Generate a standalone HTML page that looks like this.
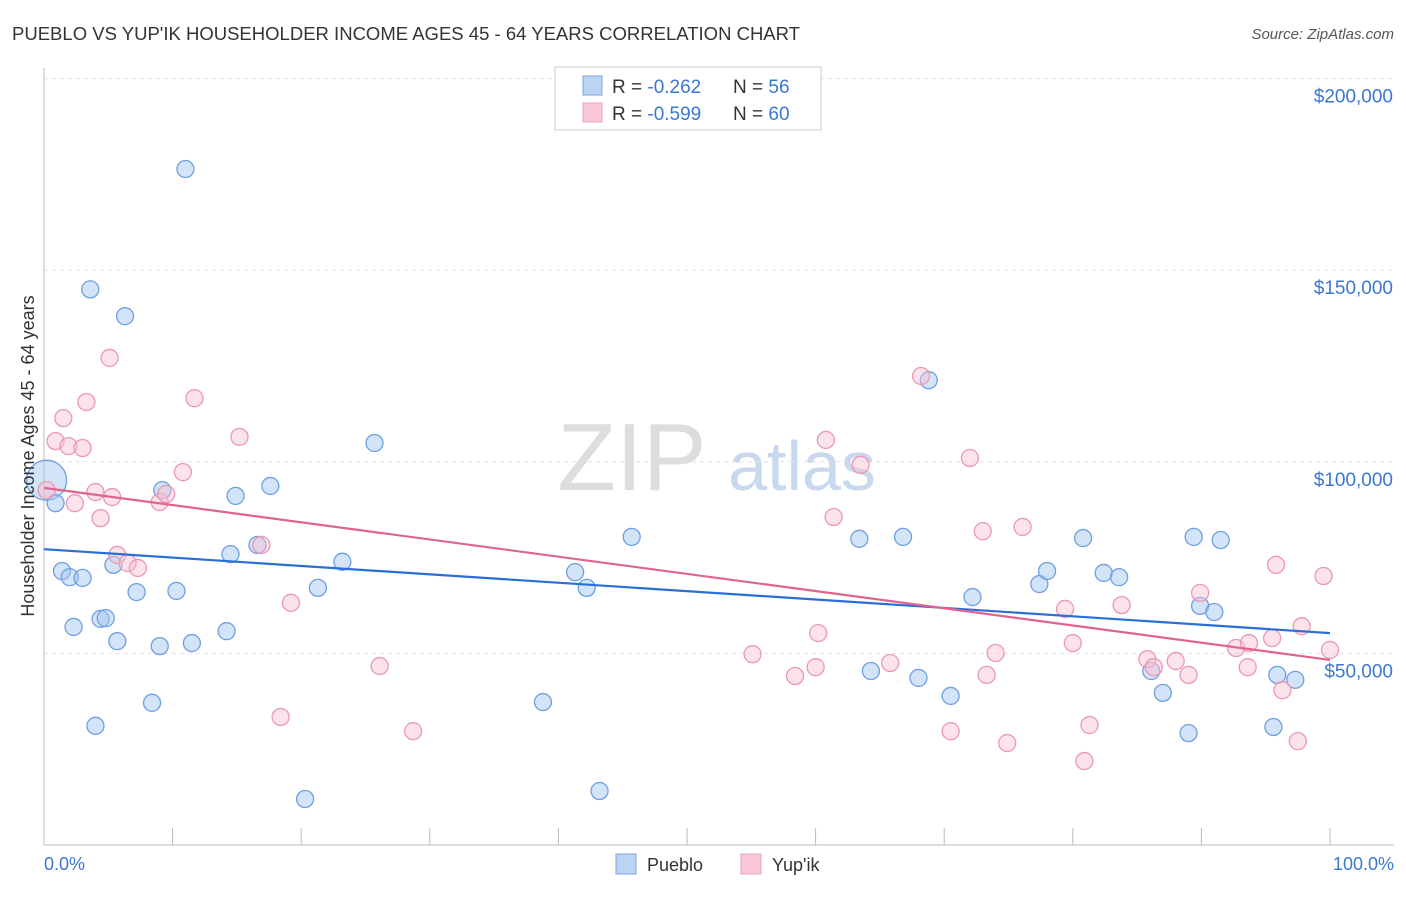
<!DOCTYPE html>
<html><head><meta charset="utf-8"><style>
body{margin:0;background:#fff;font-family:"Liberation Sans",sans-serif;}
svg text{font-family:"Liberation Sans",sans-serif;}
</style></head><body>
<svg id="chart" width="1406" height="892" xmlns="http://www.w3.org/2000/svg">
<text x="12" y="40" font-size="18" fill="#333" textLength="788" lengthAdjust="spacingAndGlyphs">PUEBLO VS YUP'IK HOUSEHOLDER INCOME AGES 45 - 64 YEARS CORRELATION CHART</text>
<text x="1394" y="39" font-size="15" fill="#555" text-anchor="end" font-style="italic">Source: ZipAtlas.com</text>
<g>
<text x="632" y="490" font-size="96" fill="#ddd" font-family="Liberation Serif" text-anchor="middle">ZIP</text>
<text x="802" y="490" font-size="70" fill="#c8d8ee" text-anchor="middle">atlas</text>
</g>
<g id="grid"></g><g id="axes"></g><g id="marks"></g>
<text transform="translate(34,456) rotate(-90)" font-size="18" fill="#333" text-anchor="middle">Householder Income Ages 45 - 64 years</text>
<text x="44" y="870" font-size="18" fill="#3a78d0">0.0%</text>
<text x="1394" y="870" font-size="18" fill="#3a78d0" text-anchor="end">100.0%</text>
<g>
<rect x="555" y="67" width="266" height="63" fill="#fff" stroke="#ccc"/>
<rect x="583" y="76" width="19" height="19" fill="#bcd4f4" stroke="#7aa6e0"/>
<rect x="583" y="103" width="19" height="19" fill="#f9c8d6" stroke="#eaa0b8"/>
<text x="612" y="93" font-size="19" fill="#333">R = <tspan fill="#3a78d0">-0.262</tspan></text>
<text x="733" y="93" font-size="19" fill="#333">N = <tspan fill="#3a78d0">56</tspan></text>
<text x="612" y="120" font-size="19" fill="#333">R = <tspan fill="#3a78d0">-0.599</tspan></text>
<text x="733" y="120" font-size="19" fill="#333">N = <tspan fill="#3a78d0">60</tspan></text>
</g>
<g>
<rect x="616" y="854" width="20" height="20" fill="#bcd4f4" stroke="#7aa6e0"/>
<text x="647" y="871" font-size="18" fill="#333">Pueblo</text>
<rect x="741" y="854" width="20" height="20" fill="#f9c8d6" stroke="#eaa0b8"/>
<text x="772" y="871" font-size="18" fill="#333">Yup'ik</text>
</g>
</svg>
<script>
const yTicks=[50000,100000,150000,200000];
const yTickLabels=["$50,000","$100,000","$150,000","$200,000"];
const xTicks=[0,10,20,30,40,50,60,70,80,90,100];
const puebloX=[0.2,0.9,3.6,6.3,11.0,1.4,2.0,3.0,2.3,4.4,4.8,5.7,4.0,5.4,7.2,8.4,9.0,9.2,10.3,11.5,14.2,14.5,14.9,16.6,17.6,20.3,21.3,23.2,25.7,38.8,41.3,42.2,43.2,45.7,63.4,64.3,66.8,68,68.8,70.5,72.2,77.4,78,80.8,82.4,83.6,86.1,87,89,89.4,89.9,91,91.5,95.6,95.9,97.3];
const puebloY=[95.2,89.2,145,138,176.4,71.5,69.9,69.7,56.9,59,59.2,53.2,31.1,73.1,66,37.1,51.9,92.6,66.3,52.7,55.8,75.9,91.1,78.3,93.7,12,67.1,73.9,104.9,37.3,71.2,67.1,14.1,80.4,79.9,45.4,80.4,43.6,121.3,38.9,64.7,68.1,71.5,80.1,71,69.9,45.4,39.7,29.2,80.4,62.4,60.8,79.6,30.8,44.4,43.1];
const yupikX=[0.2,0.9,1.5,1.9,3.0,3.3,2.4,4.0,4.4,5.3,5.1,5.7,6.5,7.3,9.0,9.5,10.8,11.7,15.2,16.9,19.2,18.4,26.1,28.7,55.1,58.4,60,60.2,60.8,61.4,63.5,65.8,68.2,70.5,72,73,73.3,74,74.9,76.1,79.4,80,80.9,81.3,83.8,85.8,86.3,89,89.9,92.7,93.6,93.7,95.5,95.8,96.3,97.5,97.8,99.5,100,88];
const yupikY=[92.6,105.4,111.4,104.1,103.6,115.6,89.2,92.1,85.3,90.8,127.1,75.7,73.6,72.3,89.5,91.6,97.3,116.6,106.5,78.3,63.2,33.4,46.7,29.7,49.8,44.1,46.4,55.3,105.7,85.6,99.2,47.5,122.4,29.7,101,81.9,44.4,50.1,26.6,83,61.6,52.7,21.9,31.3,62.6,48.5,46.4,44.4,65.8,51.4,46.4,52.7,54,73.1,40.4,27.1,57.1,70.2,50.9,48];
const puebloTrend=[77.2,55.3];
const yupikTrend=[93.2,48.3];
const NS="http://www.w3.org/2000/svg";
const X=p=>44+p*12.86;
const Y=v=>845-v*3.832;
function mk(t,a,parent){const e=document.createElementNS(NS,t);for(const k in a)e.setAttribute(k,a[k]);document.getElementById(parent).appendChild(e);return e;}
yTicks.forEach((v,i)=>{
 const l=mk('line',{x1:44,x2:1394,y1:Y(v/1000),y2:Y(v/1000),stroke:'#e2e2e2','stroke-dasharray':'4,4'},'grid');
 
 
 const t=mk('text',{x:1393,y:Y(v/1000)+24,'font-size':19,fill:'#3a78d0','text-anchor':'end'},'grid');
 t.textContent=yTickLabels[i];
 
 
});
const ax=mk('line',{x1:44,x2:1394,y1:845,y2:845,stroke:'#bbb'},'axes');


const ay=mk('line',{x1:44,x2:44,y1:68,y2:845,stroke:'#bbb'},'axes');


xTicks.forEach(p=>{const t=mk('line',{x1:X(p),x2:X(p),y1:828,y2:845,stroke:'#bbb'},'axes');
 
 });
function pts(xs,ys,fill,stroke,name){xs.forEach((x,i)=>{
 const c=mk('circle',{cx:X(x),cy:Y(ys[i]),r:(name==='pueblo-point'&&i===0)?20:8.5,fill:fill,stroke:stroke,'stroke-width':1.3},'marks');
 
 });}
pts(puebloX,puebloY,'rgba(160,195,240,0.45)','#6f9fe0','pueblo-point');
pts(yupikX,yupikY,'rgba(248,190,210,0.45)','#eb98b4','yupik-point');
const l1=mk('line',{x1:X(0),x2:X(100),y1:Y(puebloTrend[0]),y2:Y(puebloTrend[1]),stroke:'#2a6fd6','stroke-width':2.2},'marks');


const l2=mk('line',{x1:X(0),x2:X(100),y1:Y(yupikTrend[0]),y2:Y(yupikTrend[1]),stroke:'#e0648e','stroke-width':2.2},'marks');


</script>
</body></html>
